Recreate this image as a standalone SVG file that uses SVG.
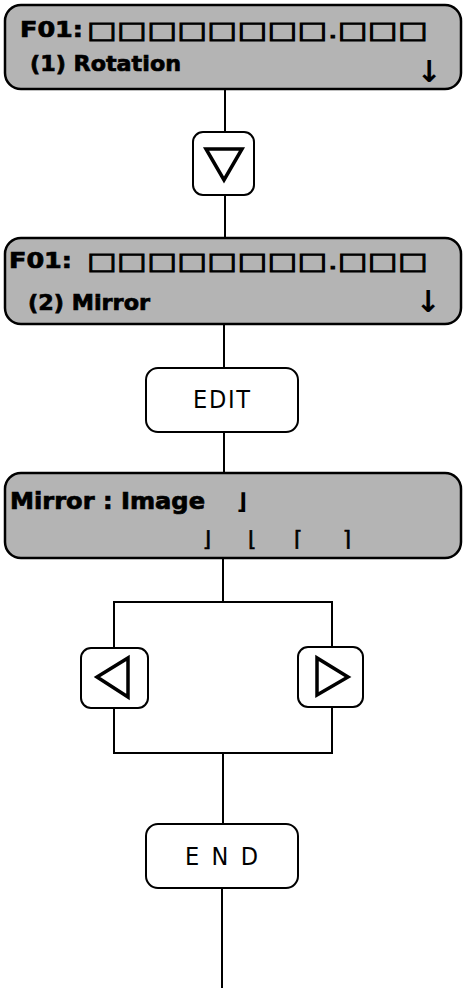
<svg xmlns="http://www.w3.org/2000/svg" width="463" height="988" viewBox="0 0 463 988">
<style>
.panel{fill:#b4b4b4;stroke:#000;stroke-width:2.5}
.btn{fill:#fff;stroke:#000;stroke-width:2}
.tri{fill:none;stroke:#000;stroke-width:3.5;stroke-linejoin:miter}
.conn{fill:none;stroke:#000;stroke-width:2}
.lcd{font-family:"DejaVu Sans","Liberation Sans",sans-serif;font-weight:bold;fill:#000;stroke:#000;stroke-width:0.7}
.box{font-family:"DejaVu Sans",sans-serif;fill:#000;stroke:#000;stroke-width:0.9}
.sym{font-family:"DejaVu Sans",sans-serif;fill:#000;stroke:#000;stroke-width:0.7;text-anchor:middle}
.arr{font-family:"DejaVu Sans",sans-serif;font-weight:bold;fill:#000;text-anchor:middle}
.key{font-family:"DejaVu Sans Condensed","DejaVu Sans",sans-serif;font-stretch:condensed;fill:#000}
</style>
<rect width="463" height="988" fill="#fff"/>
<g id="connectors">
<line class="conn" x1="225" y1="89" x2="225" y2="132"/>
<line class="conn" x1="225" y1="195" x2="225" y2="238"/>
<line class="conn" x1="224" y1="324" x2="224" y2="368"/>
<line class="conn" x1="224" y1="432" x2="224" y2="473"/>
<polyline class="conn" points="223,558 223,602"/>
<polyline class="conn" points="114,648 114,602 332,602 332,647"/>
<polyline class="conn" points="114,708 114,753 332,753 332,707"/>
<line class="conn" x1="223" y1="753" x2="223" y2="824"/>
<line class="conn" x1="222" y1="888" x2="222" y2="988"/>
</g>
<g id="panel1">
<rect class="panel" x="5" y="5" width="456" height="84" rx="16"/>
<text class="lcd" x="20" y="37" font-size="21" textLength="63" lengthAdjust="spacingAndGlyphs">F01:</text>
<text class="box" x="87" y="38" font-size="23" textLength="341" lengthAdjust="spacingAndGlyphs">□□□□□□□□.□□□</text>
<text class="lcd" x="30" y="71" font-size="22" textLength="151" lengthAdjust="spacingAndGlyphs">(1) Rotation</text>
<text class="arr" x="429" y="82" font-size="30">↓</text>
</g>
<g id="key-down">
<rect class="btn" x="193" y="132" width="61" height="63" rx="10"/>
<polygon class="tri" points="206,149 242,149 224,180"/>
</g>
<g id="panel2">
<rect class="panel" x="5" y="238" width="456" height="86" rx="16"/>
<text class="lcd" x="9" y="268" font-size="21" textLength="63" lengthAdjust="spacingAndGlyphs">F01:</text>
<text class="box" x="87" y="269" font-size="23" textLength="341" lengthAdjust="spacingAndGlyphs">□□□□□□□□.□□□</text>
<text class="lcd" x="28" y="310" font-size="22" textLength="122" lengthAdjust="spacingAndGlyphs">(2) Mirror</text>
<text class="arr" x="428" y="312" font-size="30">↓</text>
</g>
<g id="key-edit">
<rect class="btn" x="146" y="368" width="152" height="64" rx="12"/>
<text class="key" x="193" y="408" font-size="25" textLength="57" lengthAdjust="spacing">EDIT</text>
</g>
<g id="panel3">
<rect class="panel" x="5" y="473" width="456" height="85" rx="16"/>
<text class="lcd" x="10" y="509" font-size="23" textLength="195" lengthAdjust="spacingAndGlyphs">Mirror : Image</text>
<text class="arr" x="242" y="509" font-size="22">⌋</text>
<text class="sym" x="207" y="546" font-size="21">⌋</text>
<text class="sym" x="252" y="546" font-size="21">⌊</text>
<text class="sym" x="298" y="546" font-size="21">⌈</text>
<text class="sym" x="347" y="546" font-size="21">⌉</text>
</g>
<g id="key-left">
<rect class="btn" x="81" y="648" width="67" height="60" rx="10"/>
<polygon class="tri" points="97,677 128,658 128,697"/>
</g>
<g id="key-right">
<rect class="btn" x="298" y="647" width="65" height="60" rx="10"/>
<polygon class="tri" points="317,658 317,695 348,677"/>
</g>
<g id="key-end">
<rect class="btn" x="146" y="824" width="152" height="64" rx="12"/>
<text class="key" x="185" y="865" font-size="25" textLength="73" lengthAdjust="spacing">E N D</text>
</g>
</svg>
